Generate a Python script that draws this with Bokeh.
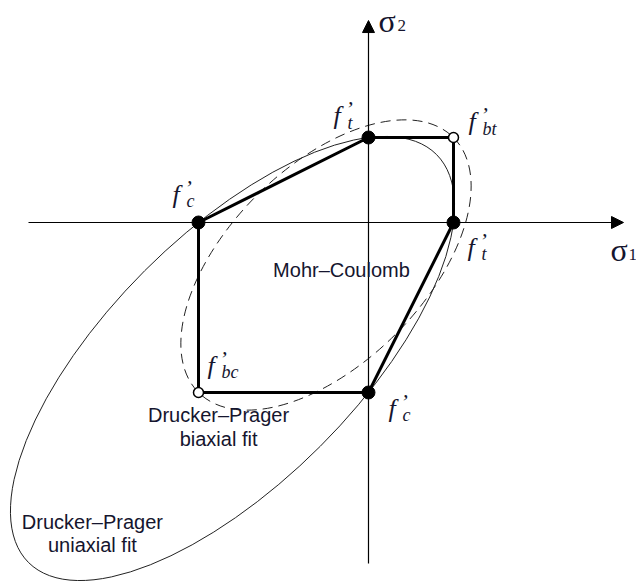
import numpy as np
from bokeh.plotting import figure
from bokeh.models import Range1d, Arrow, NormalHead, Label
from bokeh.embed import file_html
from bokeh.resources import INLINE

# ---- strengths (normalised by |f'c|) ----
ft = 0.5      # uniaxial tension
fc = -1.0     # uniaxial compression
fbt = 0.5     # biaxial tension
fbc = -1.0    # biaxial compression

# Mohr-Coulomb polygon (sigma1, sigma2)
mc_s1 = [0.0, fbt, ft, 0.0, fbc, fc, 0.0]
mc_s2 = [ft, fbt, 0.0, fc, fbc, 0.0, ft]

# uniaxial strength points (filled) and biaxial points (open)
uni_s1 = [0.0, ft, fc, 0.0]
uni_s2 = [ft, 0.0, 0.0, fc]
bi_s1 = [fbt, fbc]
bi_s2 = [fbt, fbc]

# Drucker-Prager ellipses: uniaxial fit, biaxial fit
ell_cx = [-0.8, -0.25]
ell_cy = [-0.8, -0.25]
ell_w = [3.394, 2.121]
ell_h = [1.461, 1.155]
ell_angle_deg = [45.0, 45.0]

# axis extents (sigma1, sigma2)
ax_s1 = [-2.0, 1.5]
ax_s2 = [-2.006, 1.188]

TXT = "#15152e"

p = figure(width=636, height=581,
           x_range=Range1d(-2.1647, 1.5765), y_range=Range1d(-2.1118, 1.3059),
           output_backend="svg", toolbar_location=None,
           x_axis_location=None, y_axis_location=None,
           min_border=0, outline_line_color=None,
           background_fill_color="white", border_fill_color="white")
p.grid.visible = False

# axes with arrows
p.add_layout(Arrow(end=NormalHead(size=12, fill_color="black", line_color="black", line_width=1),
                   x_start=ax_s1[0], y_start=0, x_end=ax_s1[1], y_end=0,
                   line_color="black", line_width=1.2))
p.add_layout(Arrow(end=NormalHead(size=12, fill_color="black", line_color="black", line_width=1),
                   x_start=0, y_start=ax_s2[0], x_end=0, y_end=ax_s2[1],
                   line_color="black", line_width=1.2))

# Drucker-Prager ellipses
p.ellipse(x=[ell_cx[0]], y=[ell_cy[0]], width=[ell_w[0]], height=[ell_h[0]],
          angle=np.radians(ell_angle_deg[0]), fill_color=None,
          line_color="#222222", line_width=1.0)
p.ellipse(x=[ell_cx[1]], y=[ell_cy[1]], width=[ell_w[1]], height=[ell_h[1]],
          angle=np.radians(ell_angle_deg[1]), fill_color=None,
          line_color="#222222", line_width=1.0, line_dash="10 6")

# Mohr-Coulomb polygon
p.line(mc_s1, mc_s2, line_color="black", line_width=3)

# points
p.scatter(uni_s1, uni_s2, size=13, fill_color="black", line_color="black")
p.scatter(bi_s1, bi_s2, size=10, fill_color="white", line_color="black", line_width=1.5)


def f_label(x, y, sub, dx, dy):
    """f' with subscript; dx, dy = screen px of f's left/baseline from point (dy>0 is down)."""
    common = dict(x=x, y=y, text_font="Liberation Serif", text_font_style="italic",
                  text_baseline="alphabetic", text_color=TXT)
    dy = dy - 5
    p.add_layout(Label(x_offset=dx, y_offset=-dy, text="f", text_font_size="26px", **common))
    p.add_layout(Label(x_offset=dx + 12, y_offset=-dy + 7, text="\u2019", text_font_size="22px", **common))
    p.add_layout(Label(x_offset=dx + 14, y_offset=-dy - 7, text=sub, text_font_size="18px", **common))


f_label(0.0, ft, "t", -35, -17)
f_label(fbt, fbt, "bt", 15, -11)
f_label(ft, 0.0, "t", 14, 30)
f_label(fc, 0.0, "c", -26, -23)
f_label(fbc, fbc, "bc", 9, -22)
f_label(0.0, fc, "c", 20, 21)

# sigma labels
sig = dict(text_font="Liberation Serif", text_baseline="alphabetic", text_color=TXT)
p.add_layout(Label(x=ax_s1[1], y=0, x_offset=-13, y_offset=-28, text="\u03c3", text_font_size="32px", **sig))
p.add_layout(Label(x=ax_s1[1], y=0, x_offset=5, y_offset=-32, text="1", text_font_size="17px", **sig))
p.add_layout(Label(x=0, y=ax_s2[1], x_offset=10, y_offset=0, text="\u03c3", text_font_size="32px", **sig))
p.add_layout(Label(x=0, y=ax_s2[1], x_offset=29, y_offset=-5, text="2", text_font_size="17px", **sig))

# text annotations
sans = dict(text_font="Liberation Sans", text_font_size="20px", text_align="center",
            text_baseline="middle", text_color=TXT)
p.add_layout(Label(x=-0.159, y=-0.282, text="Mohr\u2013Coulomb", **sans))
p.add_layout(Label(x=-0.882, y=-1.135, text="Drucker\u2013Prager", **sans))
p.add_layout(Label(x=-0.882, y=-1.276, text="biaxial fit", **sans))
p.add_layout(Label(x=-1.624, y=-1.759, text="Drucker\u2013Prager", **sans))
p.add_layout(Label(x=-1.624, y=-1.900, text="uniaxial fit", **sans))

open("out.html", "w").write(file_html(p, INLINE))
